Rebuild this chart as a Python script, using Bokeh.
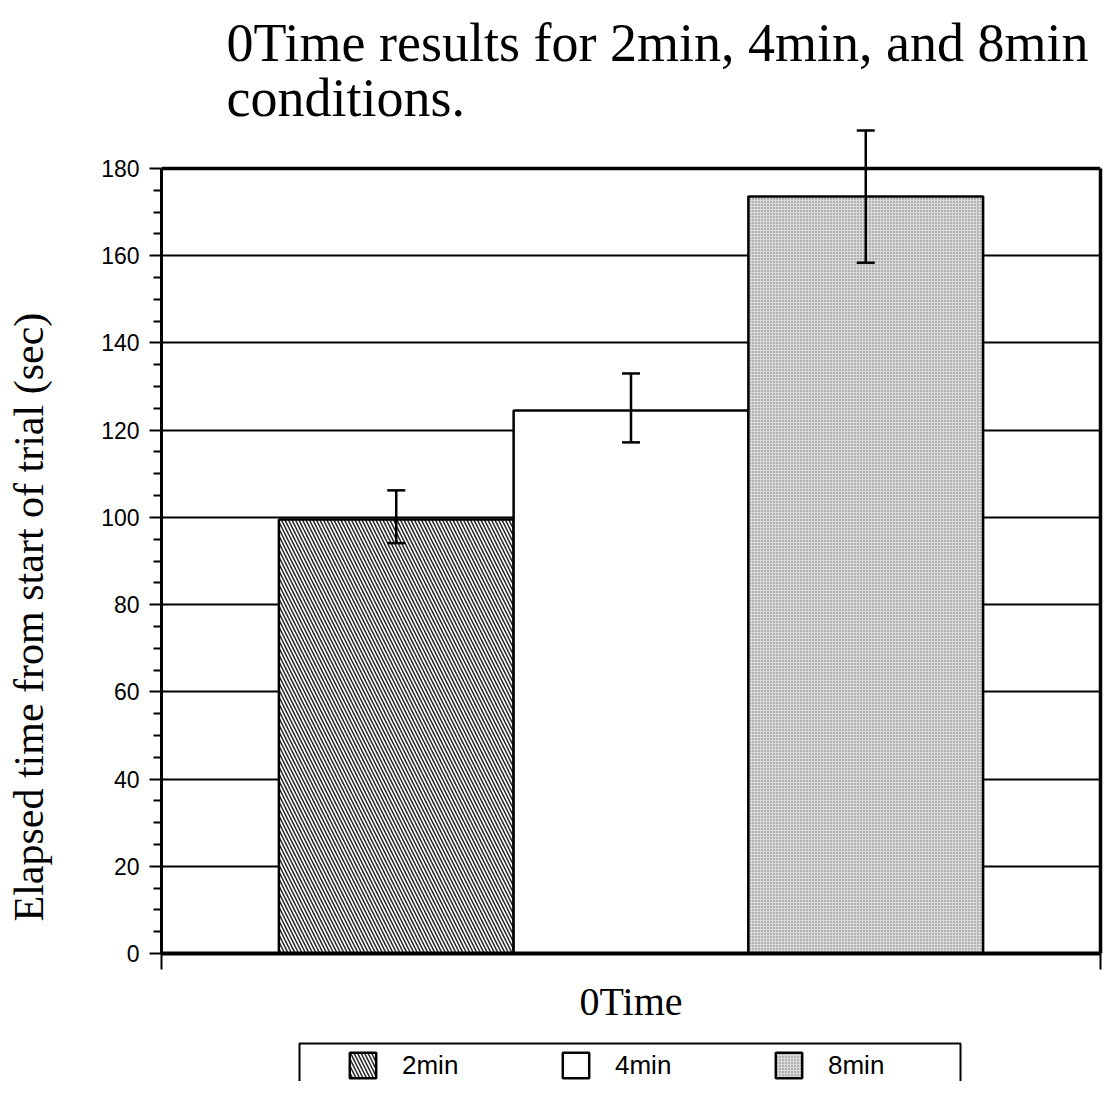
import math
from bokeh.plotting import figure
from bokeh.layouts import column, row
from bokeh.models import (Range1d, ColumnDataSource, Whisker, TeeHead, Legend, LegendItem,
                          FixedTicker, LinearAxis, Span, Label, BoxAnnotation)
from bokeh.embed import file_html
from bokeh.resources import INLINE

# ---- data ----
conditions = ["2min", "4min", "8min"]
mean_time = [99.5, 124.5, 173.6]
err_low = [94.1, 117.2, 158.4]
err_high = [106.2, 133.0, 188.7]
y_ticks = [0, 20, 40, 60, 80, 100, 120, 140, 160, 180]
title_lines = ["0Time results for 2min, 4min, and 8min", "conditions."]
x_label = "0Time"
y_label = "Elapsed time from start of trial (sec)"

# ---- styles ----
fills = ["white", "white", "#dadada"]
hatches = ["\\", " ", "."]
hatch_colors = ["#262626", "black", "#707070"]
hatch_scales = [7, 7, 3]
hatch_weights = [1.5, 1.0, 1.0]

xs = [i + 1 for i in range(len(conditions))]
src = ColumnDataSource(dict(x=xs, top=mean_time, lo=err_low, hi=err_high,
                            fill=fills, hatch=hatches, hcol=hatch_colors, hsc=hatch_scales,
                            hw=hatch_weights, name=conditions))

W = 1103
TITLE_H, MAIN_H, LEG_H = 128, 902, 51
YLAB_W = 55


def text_fig(width, height):
    f = figure(width=width, height=height, output_backend="svg", toolbar_location=None,
               x_axis_type=None, y_axis_type=None, x_range=Range1d(0, 1), y_range=Range1d(0, 1),
               min_border=0, min_border_left=0, min_border_right=0,
               min_border_top=0, min_border_bottom=0)
    f.outline_line_color = None
    f.background_fill_color = "white"
    f.border_fill_color = "white"
    f.grid.visible = False
    return f


# ---- title strip ----
tf = text_fig(W, TITLE_H)
for i, line in enumerate(title_lines):
    tf.add_layout(Label(x=226, y=56 - 55 * i, x_units="screen", y_units="screen", text=line,
                        text_font="Liberation Serif", text_font_size="54px", text_color="black",
                        text_align="left", text_baseline="bottom"))

# ---- y axis title strip ----
yf = text_fig(YLAB_W, MAIN_H)
yf.add_layout(Label(x=28, y=32, x_units="screen", y_units="screen", text=y_label, angle=math.pi / 2,
                    text_font="Liberation Serif", text_font_size="42px", text_color="black",
                    text_align="left", text_baseline="alphabetic"))

# ---- main plot ----
px_per_unit = 785 / 180
y_top = 180 + (168 - TITLE_H) / px_per_unit      # head-room for the error bar above the 180 line
p = figure(width=W - YLAB_W, height=MAIN_H, output_backend="svg", toolbar_location=None,
           x_range=Range1d(0, len(conditions) + 1), y_range=Range1d(0, y_top),
           min_border_left=161 - YLAB_W, min_border_right=3, min_border_top=0, min_border_bottom=77)
p.background_fill_color = "white"
p.border_fill_color = "white"
p.outline_line_color = None

p.xgrid.visible = False
p.ygrid.ticker = FixedTicker(ticks=y_ticks[1:-1])
p.ygrid.grid_line_color = "black"
p.ygrid.grid_line_width = 2

p.add_layout(Span(location=y_ticks[-1], dimension="width", line_color="black", line_width=3.5))
ra = LinearAxis(ticker=FixedTicker(ticks=[]), bounds=(0, y_ticks[-1]), axis_line_width=3.5,
                major_tick_line_color=None, minor_tick_line_color=None,
                major_tick_out=0, minor_tick_out=0)
p.add_layout(ra, "right")

ya = p.yaxis[0]
ya.bounds = (0, y_ticks[-1])
ya.ticker = FixedTicker(ticks=y_ticks, minor_ticks=[v for v in range(0, 181, 5) if v % 20])
ya.axis_line_width = 3
ya.major_tick_out = 12
ya.major_tick_in = 0
ya.minor_tick_out = 8
ya.minor_tick_in = 0
ya.major_tick_line_width = 2
ya.minor_tick_line_width = 2
ya.major_label_standoff = 10
ya.major_label_text_font = "Liberation Sans"
ya.major_label_text_font_size = "23px"
ya.major_label_text_color = "black"

xa = p.xaxis[0]
xa.ticker = FixedTicker(ticks=[0, len(conditions) + 1])
xa.major_label_overrides = {0: "", len(conditions) + 1: ""}
xa.axis_line_width = 4
xa.major_tick_out = 16
xa.major_tick_in = 0
xa.major_tick_line_width = 2
xa.minor_tick_out = 0
xa.axis_label = x_label
xa.axis_label_standoff = 9
xa.axis_label_text_font = "Liberation Serif"
xa.axis_label_text_font_size = "40px"
xa.axis_label_text_font_style = "normal"
xa.axis_label_text_color = "black"

bar_kw = dict(x="x", top="top", bottom=0, width=1.0, source=src,
              fill_color="fill", line_color="black", line_width=2.5,
              hatch_pattern="hatch", hatch_color="hcol", hatch_scale="hsc", hatch_weight="hw")
bars = p.vbar(**bar_kw)

wh = Whisker(base="x", upper="hi", lower="lo", source=src, line_width=2.5, line_color="black",
             upper_head=TeeHead(size=18, line_width=2.5), lower_head=TeeHead(size=18, line_width=2.5),
             level="overlay")
p.add_layout(wh)

# ---- legend strip ----
lf = text_fig(W, LEG_H)
lf.x_range = Range1d(10, 11)          # keeps the key's own bars out of view
lf.y_range = Range1d(-2, -1)
key_bars = lf.vbar(**bar_kw, muted_alpha=0)
key_bars.muted = True                 # the key renderer itself draws nothing
lf.add_layout(BoxAnnotation(left=299, right=960, top=38, bottom=-30,
                            left_units="screen", right_units="screen",
                            top_units="screen", bottom_units="screen",
                            fill_color="white", fill_alpha=1.0,
                            line_color="black", line_alpha=1.0, line_width=2))
legend = Legend(items=[LegendItem(label=c, renderers=[key_bars], index=i) for i, c in enumerate(conditions)],
                orientation="horizontal", location=(346, 0), margin=0,
                glyph_width=33, glyph_height=32, label_standoff=23, label_width=60, spacing=97,
                padding=10, border_line_color=None, background_fill_alpha=0,
                inactive_fill_alpha=0,
                label_text_font="Liberation Sans", label_text_font_size="26px",
                label_text_color="black")
lf.add_layout(legend, "center")

layout = column(tf, row(yf, p), lf)
open("out.html", "w").write(file_html(layout, INLINE))
